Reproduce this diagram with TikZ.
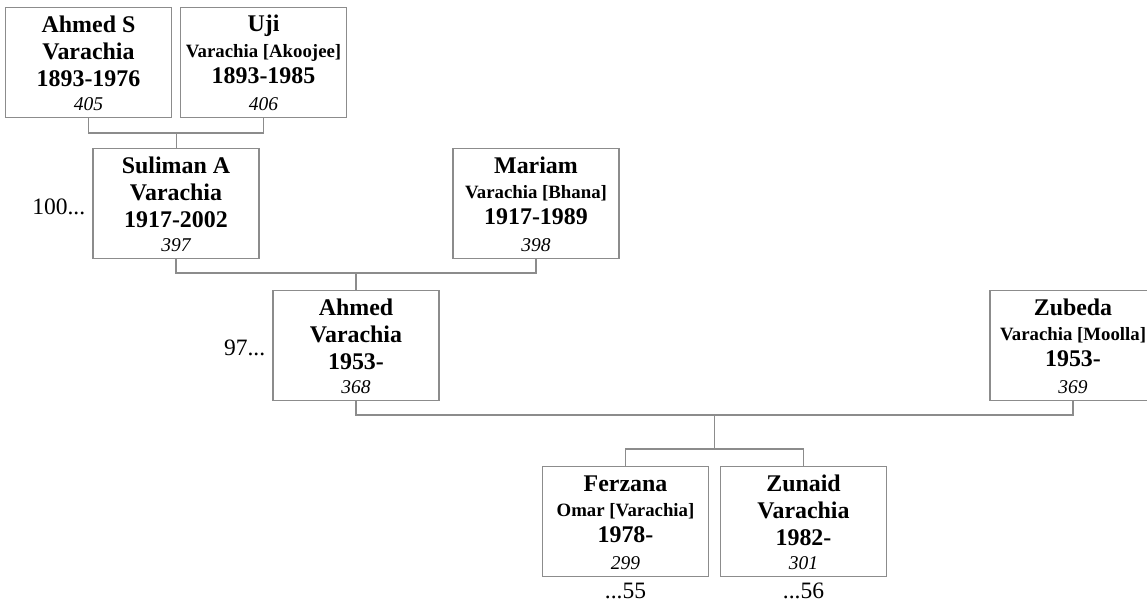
\documentclass[tikz,border=0pt]{standalone}
\usepackage{fontspec}
\setmainfont{Liberation Serif}
\usetikzlibrary{calc}
\definecolor{boxgray}{HTML}{8C8C8C}
\tikzset{
  pbox/.style={draw=boxgray, line width=1.3pt, fill=white, minimum width=166pt, minimum height=110pt, inner sep=0pt, anchor=north},
  bigtxt/.style={anchor=base, inner sep=0pt, font=\fontsize{23.9}{28}\selectfont\bfseries},
  smalltxt/.style={anchor=base, inner sep=0pt, font=\fontsize{18.8}{22}\selectfont\bfseries},
  numtxt/.style={anchor=base, inner sep=0pt, font=\fontsize{19.5}{23}\selectfont\itshape},
  reftxt/.style={anchor=base, inner sep=0pt, font=\fontsize{23.5}{28}\selectfont},
  link/.style={draw=boxgray, line width=1.3pt}
}
% id, cx, top, line1, line2, line3, number
\newcommand\personbig[7]{%
  \node[pbox] (#1) at (#2,-#3) {};
  \node[bigtxt] (#1a) at ($(#1.north)+(0,-25.5)$) {#4};
  \node[bigtxt] (#1b) at ($(#1.north)+(0,-52.5)$) {#5};
  \node[bigtxt] (#1c) at ($(#1.north)+(0,-79)$) {#6};
  \node[numtxt] (#1d) at ($(#1.north)+(0,-103.5)$) {#7};
}
\newcommand\personsmall[7]{%
  \node[pbox] (#1) at (#2,-#3) {};
  \node[bigtxt] (#1a) at ($(#1.north)+(0,-25)$) {#4};
  \node[smalltxt] (#1b) at ($(#1.north)+(0,-50)$) {#5};
  \node[bigtxt] (#1c) at ($(#1.north)+(0,-76)$) {#6};
  \node[numtxt] (#1d) at ($(#1.north)+(0,-103)$) {#7};
}
\begin{document}
\begin{tikzpicture}[x=1pt,y=1pt]
\useasboundingbox (0,0) rectangle (1147,-602);
\clip (0,0) rectangle (1147,-602);
\fill[white] (0,0) rectangle (1147,-602);

\coordinate (m1) at (176.5,-133);
\coordinate (m2) at (356,-273);
\coordinate (m3) at (714.5,-415);
\coordinate (k3) at (714.5,-449);

\personbig{p405}{88.5}{7}{Ahmed S}{Varachia}{1893-1976}{405}
\personsmall{p406}{263.5}{7}{Uji}{Varachia [Akoojee]}{1893-1985}{406}
\personbig{p397}{176}{148}{Suliman A}{Varachia}{1917-2002}{397}
\personsmall{p398}{536}{148}{Mariam}{Varachia [Bhana]}{1917-1989}{398}
\personbig{p368}{356}{290}{Ahmed}{Varachia}{1953-}{368}
\personsmall{p369}{1073}{290}{Zubeda}{Varachia [Moolla]}{1953-}{369}
\personsmall{p299}{625.5}{466}{Ferzana}{Omar [Varachia]}{1978-}{299}
\personbig{p301}{803.5}{466}{Zunaid}{Varachia}{1982-}{301}

\draw[link] (p405.south) |- (m1) -| (p406.south);
\draw[link] (m1) -- (m1 |- p397.north);
\draw[link] (p397.south) |- (m2) -| (p398.south);
\draw[link] (m2) -- (m2 |- p368.north);
\draw[link] (p368.south) |- (m3) -| (p369.south);
\draw[link] (m3) -- (k3);
\draw[link] (p299.north) |- (k3) -| (p301.north);

\node[reftxt, anchor=base east] (r100) at ($(p397.west)+(-7,-10.5)$) {100...};
\node[reftxt, anchor=base east] (r97) at ($(p368.west)+(-7,-10)$) {97...};
\node[reftxt] (r55) at ($(p299.south)+(0,-21)$) {...55};
\node[reftxt] (r56) at ($(p301.south)+(0,-21)$) {...56};
\end{tikzpicture}
\end{document}
